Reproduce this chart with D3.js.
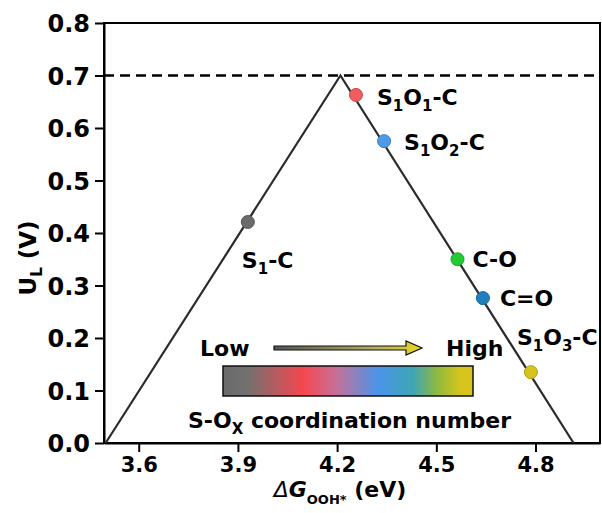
<!DOCTYPE html>
<html><head><meta charset="utf-8">
<script src="https://cdn.jsdelivr.net/npm/d3@7"></script>
<style>body{margin:0;background:#fff}svg{display:block}</style>
</head><body>
<svg id="c" width="602" height="513"></svg>
<script>
// ---- data ----
const volcanoX = [3.50, 4.21, 4.915];
const volcanoY = [0.0, 0.70, 0.0];
const limitU = 0.70;
const pointNames = ["S1-C", "S1O1-C", "S1O2-C", "C-O", "C=O", "S1O3-C"];
const pointX = [3.93, 4.257, 4.342, 4.564, 4.641, 4.786];
const pointY = [0.421, 0.663, 0.575, 0.350, 0.276, 0.135];
const pointColors = ["#6b6b6b", "#f25c5f", "#4d9be6", "#22cc30", "#1f7fbf", "#d6c41e"];
const xTicks = [3.6, 3.9, 4.2, 4.5, 4.8];
const yTicks = [0.0, 0.1, 0.2, 0.3, 0.4, 0.5, 0.6, 0.7, 0.8];

// label text pieces ([text, isSubscript])
const labelParts = [
  [["S",0],["1",1],["-C",0]],
  [["S",0],["1",1],["O",0],["1",1],["-C",0]],
  [["S",0],["1",1],["O",0],["2",1],["-C",0]],
  [["C-O",0]],
  [["C=O",0]],
  [["S",0],["1",1],["O",0],["3",1],["-C",0]]
];
// label layout (pixel offsets from the point: text start, vertical center)
const labelOff = [[-6,38],[21,2],[20,1],[15,0],[17,0],[-14,-35]];

const FONT = "'DejaVu Sans', 'Liberation Sans', Arial, sans-serif";
const svg = d3.select("#c");
const x = d3.scaleLinear().domain([3.495, 4.995]).range([104, 600]);
const y = d3.scaleLinear().domain([0, 0.8]).range([443, 23]);

// frame
svg.append("rect").attr("x",104).attr("y",23).attr("width",496).attr("height",420)
  .attr("fill","none").attr("stroke","#000").attr("stroke-width",2);

// axes
const xa = svg.append("g").attr("transform","translate(0,443)")
  .call(d3.axisBottom(x).tickValues(xTicks).tickFormat(d3.format(".1f")).tickSize(9).tickSizeOuter(0));
const ya = svg.append("g").attr("transform","translate(104,0)")
  .call(d3.axisLeft(y).tickValues(yTicks).tickFormat(d3.format(".1f")).tickSize(9).tickSizeOuter(0));
[xa, ya].forEach(g => {
  g.select(".domain").attr("stroke","#000").attr("stroke-width",2);
  g.selectAll(".tick line").attr("stroke","#000").attr("stroke-width",2);
  g.selectAll(".tick text").attr("fill","#000").style("font-family",FONT).style("font-weight","bold");
});
xa.selectAll(".tick text").style("font-size","21px").attr("dy","0").attr("y",29);
ya.selectAll(".tick text").style("font-size","24px").attr("x",-14).attr("dy","0.36em");

// dashed limit line
svg.append("line").attr("x1",x(3.495)).attr("x2",x(4.995)).attr("y1",y(limitU)).attr("y2",y(limitU))
  .attr("stroke","#000").attr("stroke-width",2.5).attr("stroke-dasharray","10,6");

// volcano lines
const vdata = volcanoX.map((d,i)=>[d, volcanoY[i]]);
svg.append("path").datum(vdata)
  .attr("d", d3.line().x(d=>x(d[0])).y(d=>y(d[1])))
  .attr("fill","none").attr("stroke","#2b2b2b").attr("stroke-width",2.2);

// points
svg.selectAll("circle.pt").data(pointX).join("circle").attr("class","pt")
  .attr("cx",(d)=>x(d)).attr("cy",(d,i)=>y(pointY[i])).attr("r",6.5)
  .attr("fill",(d,i)=>pointColors[i])
  .attr("stroke",(d,i)=>d3.color(pointColors[i]).darker(0.6)).attr("stroke-width",1);

// labels
pointNames.forEach((nm,i)=>{
  const t = svg.append("text")
    .attr("x", x(pointX[i]) + labelOff[i][0])
    .attr("y", y(pointY[i]) + labelOff[i][1] + 8)
    .style("font-family",FONT).style("font-weight","bold").style("font-size","22px").attr("fill","#000");
  labelParts[i].forEach(([s,sub])=>{
    const ts = t.append("tspan").text(s);
    if (sub) ts.attr("dy",6).style("font-size","15px");
    else if (t.selectAll("tspan").size()>1) ts.attr("dy",-6);
  });
});

// axis titles
const yt = svg.append("text").attr("transform","translate(36,258) rotate(-90)")
  .attr("text-anchor","middle").style("font-family",FONT).style("font-weight","bold").style("font-size","23px");
yt.append("tspan").text("U");
yt.append("tspan").text("L").style("font-size","15px").attr("dy",6);
yt.append("tspan").text(" (V)").attr("dy",-6);

const xt = svg.append("text").attr("x",340).attr("y",497)
  .attr("text-anchor","middle").style("font-family",FONT).style("font-weight","bold").style("font-size","22px");
xt.append("tspan").text("Δ").style("font-style","italic").style("font-weight","normal");
xt.append("tspan").text("G").style("font-style","italic");
xt.append("tspan").text("OOH*").style("font-size","13px").attr("dy",7);
xt.append("tspan").text(" (eV)").attr("dy",-7);

// legend gradient
const defs = svg.append("defs");
const grad = defs.append("linearGradient").attr("id","cg").attr("x1","0%").attr("x2","100%");
[[0,"#6b6b6b"],[0.1,"#747070"],[0.32,"#f5474e"],[0.45,"#c86f96"],[0.62,"#4b95ea"],[0.76,"#3ea5b4"],[0.86,"#93ba3c"],[0.95,"#d6c51c"],[1,"#d6c51c"]]
  .forEach(([o,c])=>grad.append("stop").attr("offset",o).attr("stop-color",c));
const agrad = defs.append("linearGradient").attr("id","ag").attr("x1","0%").attr("x2","100%");
[[0,"#555"],[0.7,"#bdb060"],[1,"#e8d81c"]].forEach(([o,c])=>agrad.append("stop").attr("offset",o).attr("stop-color",c));

svg.append("rect").attr("x",223).attr("y",366).attr("width",250).attr("height",30)
  .attr("fill","url(#cg)").attr("stroke","#111").attr("stroke-width",1.5);

// arrow
const ay = 348;
svg.append("path")
  .attr("d",`M274,${ay-2} L406,${ay-2} L406,${ay-7} L422,${ay} L406,${ay+7} L406,${ay+2} L274,${ay+2} Z`)
  .attr("fill","url(#ag)").attr("stroke","#111").attr("stroke-width",1.2);

svg.append("text").attr("x",200).attr("y",356).text("Low")
  .style("font-family",FONT).style("font-weight","bold").style("font-size","22px");
svg.append("text").attr("x",446).attr("y",356).text("High")
  .style("font-family",FONT).style("font-weight","bold").style("font-size","22px");
const ct = svg.append("text").attr("x",188).attr("y",428)
  .style("font-family",FONT).style("font-weight","bold").style("font-size","22px");
ct.append("tspan").text("S-O");
ct.append("tspan").text("X").style("font-size","15px").attr("dy",6);
ct.append("tspan").text(" coordination number").attr("dy",-6);
</script>
</body></html>
